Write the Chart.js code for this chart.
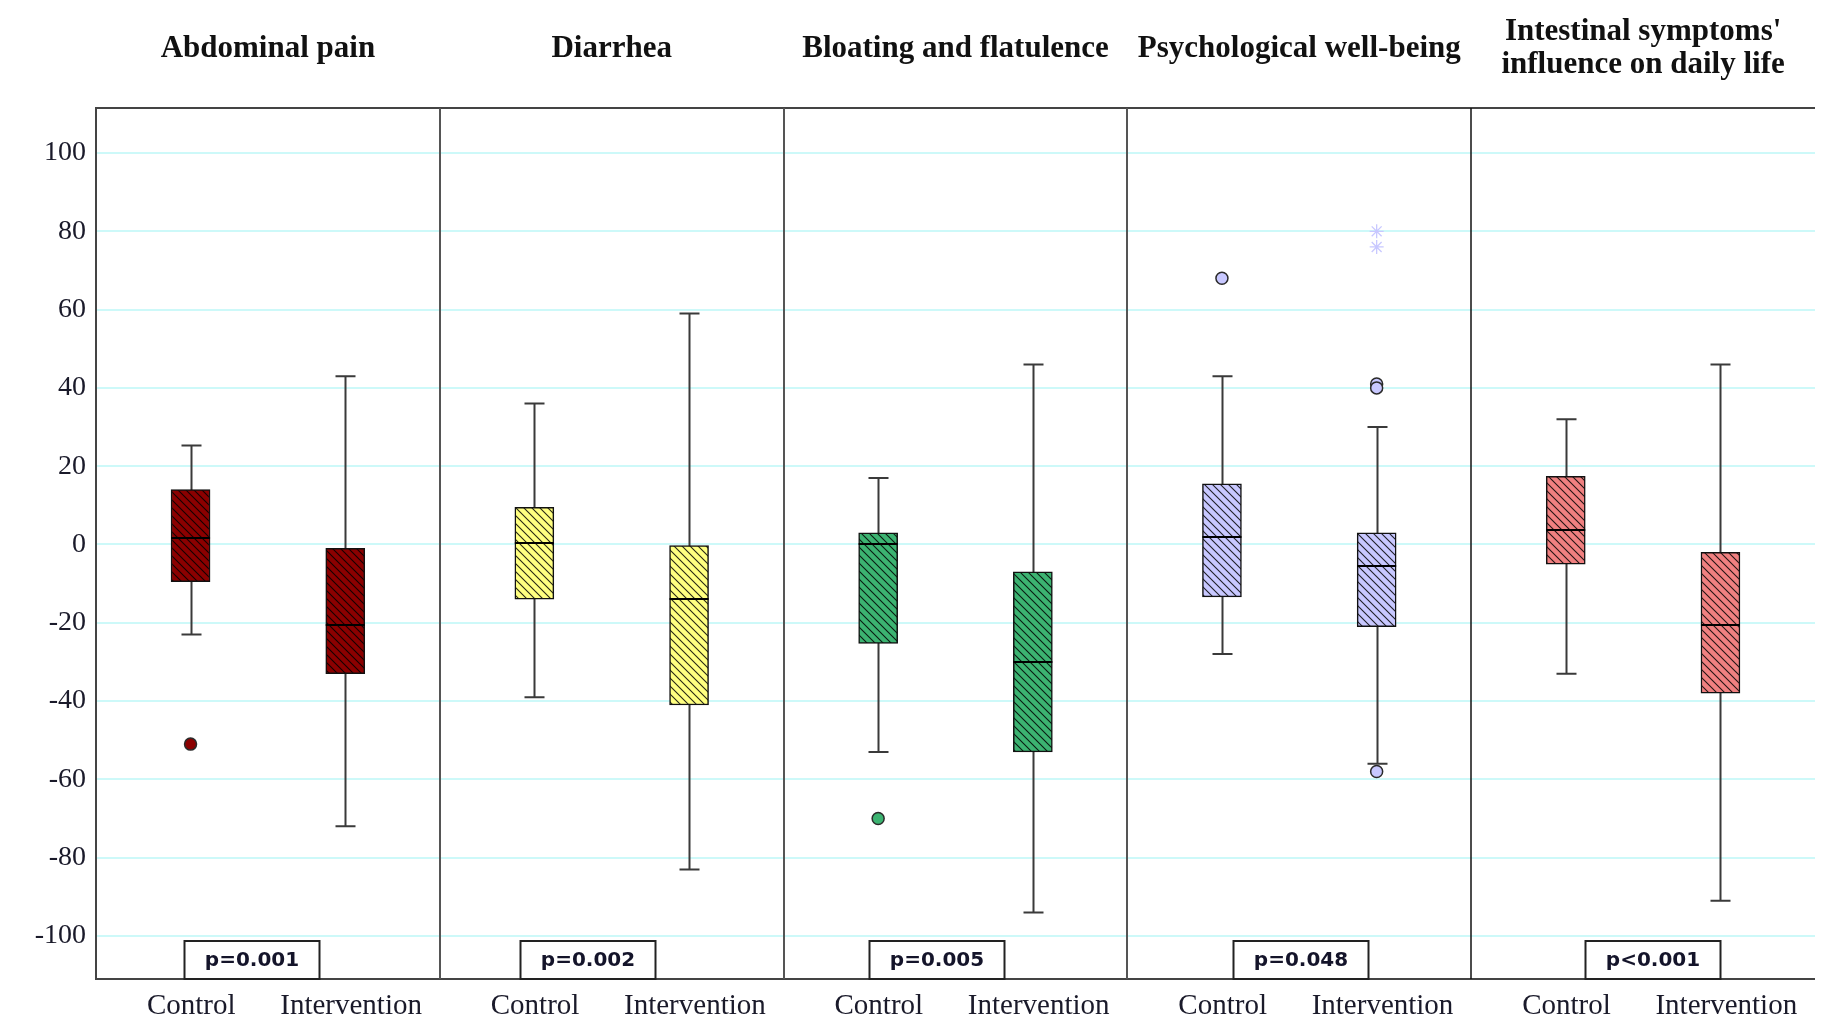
<!DOCTYPE html>
<html><head><meta charset="utf-8">
<script src="https://cdn.jsdelivr.net/npm/chart.js@4"></script>
<style>html,body{margin:0;padding:0;background:#fff}canvas{display:block}</style>
</head><body>
<canvas id="c" width="1827" height="1017"></canvas>
<script>
// ---- data ----
const panelTitles = [["Abdominal pain"],["Diarrhea"],["Bloating and flatulence"],["Psychological well-being"],["Intestinal symptoms'","influence on daily life"]];
const groups = ["Control","Intervention"];
// order: panel0 Control, panel0 Intervention, panel1 Control, ...
const whiskerLow  = [-23, -72, -39, -83, -53, -94, -28, -56, -33, -91];
const q1          = [-9.5, -33, -14, -41, -25.3, -53, -13.4, -21, -5, -38];
const median      = [1.7, -20.5, 0.5, -14, 0, -30, 1.8, -5.6, 3.6, -20.6];
const q3          = [14, -1, 9.5, 0, 3, -7, 15.5, 3, 17.4, -2];
const whiskerHigh = [25.3, 43, 36, 59, 17, 46, 43, 30, 32, 46];
const outliers = [[-51],[],[],[],[-70],[],[68],[41,40,-58],[],[]];
const extremes = [[],[],[],[],[],[],[],[80,76],[],[]];
const pValues = ["p=0.001","p=0.002","p=0.005","p=0.048","p<0.001"];
const yTicks = [-100,-80,-60,-40,-20,0,20,40,60,80,100];

// ---- layout / style (not data) ----
const groupPos = [0.275, 0.725];
const labelPos = [0.277, 0.742];
const pLabelPos = [0.455, 0.43, 0.447, 0.504, 0.53];
const panelColors = ['#8b0000','#ffff80','#3cb371','#c8c8ff','#f08080'];
const BOX_W = 39, CAP_W = 20;

const canvas = document.getElementById('c');
const ctx0 = canvas.getContext('2d');
function hatch(color){
  const s = 8, c = document.createElement('canvas'); c.width = s; c.height = s;
  const g = c.getContext('2d');
  g.fillStyle = color; g.fillRect(0,0,s,s);
  g.strokeStyle = 'rgba(0,0,0,0.85)'; g.lineWidth = 1.1;
  g.beginPath();
  g.moveTo(-1,-1); g.lineTo(s+1,s+1);
  g.moveTo(s-2,-2); g.lineTo(s+2,2);
  g.moveTo(-2,s-2); g.lineTo(2,s+2);
  g.stroke();
  return ctx0.createPattern(c,'repeat');
}
const patterns = panelColors.map(hatch);

const nBoxes = whiskerLow.length;
const xPos = [], xTickPos = [], xLabels = [];
for (let k = 0; k < nBoxes; k++) {
  const p = Math.floor(k/2), gi = k % 2;
  xPos.push(p + groupPos[gi]);
  xTickPos.push(p + labelPos[gi]);
  xLabels.push(groups[gi]);
}
const boxData = xPos.map((x,k) => ({x: x, y: [q1[k], q3[k]]}));
const boxFill = xPos.map((x,k) => patterns[Math.floor(k/2)]);

const outData = [], outColors = [];
outliers.forEach((arr,k) => arr.forEach(v => { outData.push({x: xPos[k], y: v}); outColors.push(panelColors[Math.floor(k/2)]); }));
const extData = [];
extremes.forEach((arr,k) => arr.forEach(v => extData.push({x: xPos[k], y: v})));

const framePlugin = {
  id: 'frame',
  beforeDatasetsDraw(chart) {
    const {ctx, chartArea: a, scales: {x, y}} = chart;
    ctx.save();
    // whiskers
    ctx.strokeStyle = '#3a3a3a'; ctx.lineWidth = 2;
    for (let k = 0; k < nBoxes; k++) {
      const px = Math.round(x.getPixelForValue(xPos[k])) + 0.5;
      const yl = y.getPixelForValue(whiskerLow[k]), yh = y.getPixelForValue(whiskerHigh[k]);
      ctx.beginPath();
      ctx.moveTo(px, yl); ctx.lineTo(px, yh);
      ctx.moveTo(px - CAP_W/2, yl); ctx.lineTo(px + CAP_W/2, yl);
      ctx.moveTo(px - CAP_W/2, yh); ctx.lineTo(px + CAP_W/2, yh);
      ctx.stroke();
    }
    // frame
    ctx.strokeStyle = '#444'; ctx.lineWidth = 2;
    ctx.beginPath();
    ctx.moveTo(a.left - 1, a.top); ctx.lineTo(a.right, a.top);
    ctx.moveTo(a.left, a.top); ctx.lineTo(a.left, a.bottom);
    ctx.moveTo(a.left - 1, a.bottom); ctx.lineTo(a.right, a.bottom);
    ctx.stroke();
    for (let i = 1; i < panelTitles.length; i++) {
      const px = Math.round(x.getPixelForValue(i));
      ctx.strokeStyle = i === 4 ? '#111' : '#555';
      ctx.lineWidth = i === 4 ? 1.5 : 2;
      ctx.beginPath(); ctx.moveTo(px, a.top); ctx.lineTo(px, a.bottom); ctx.stroke();
    }
    ctx.restore();
  },
  afterDatasetsDraw(chart) {
    const {ctx, chartArea: a, scales: {x, y}} = chart;
    ctx.save();
    // medians
    ctx.strokeStyle = '#000'; ctx.lineWidth = 2;
    for (let k = 0; k < nBoxes; k++) {
      const px = x.getPixelForValue(xPos[k]);
      const py = Math.round(y.getPixelForValue(median[k]));
      ctx.beginPath(); ctx.moveTo(px - BOX_W/2, py); ctx.lineTo(px + BOX_W/2, py); ctx.stroke();
    }
    // p-value boxes
    ctx.font = 'bold 20px "DejaVu Sans"';
    ctx.textAlign = 'center'; ctx.textBaseline = 'middle';
    pValues.forEach((t,i) => {
      const cx = Math.round(x.getPixelForValue(i + pLabelPos[i]));
      const w = 135, h = 38;
      ctx.fillStyle = '#fff';
      ctx.fillRect(cx - w/2, a.bottom - h, w, h);
      ctx.strokeStyle = '#222'; ctx.lineWidth = 2;
      ctx.strokeRect(cx - w/2, a.bottom - h, w, h);
      ctx.fillStyle = '#14142a';
      ctx.fillText(t, cx, a.bottom - h/2 + 1);
    });
    ctx.restore();
  },
  afterDraw(chart) {
    const {ctx, scales: {x}} = chart;
    ctx.save();
    ctx.font = 'bold 31px "Liberation Serif"';
    ctx.fillStyle = '#111';
    ctx.textAlign = 'center'; ctx.textBaseline = 'middle';
    panelTitles.forEach((lines,i) => {
      const cx = x.getPixelForValue(i + 0.5);
      if (lines.length === 1) ctx.fillText(lines[0], cx, 49);
      else { ctx.fillText(lines[0], cx, 32); ctx.fillText(lines[1], cx, 65); }
    });
    ctx.restore();
  }
};

new Chart(canvas, {
  type: 'bar',
  data: {
    datasets: [
      { type: 'scatter', data: extData, pointStyle: 'star', pointRadius: 7, borderColor: '#c8c8ff', backgroundColor: '#c8c8ff', pointBorderWidth: 1.3 },
      { type: 'scatter', data: outData, pointStyle: 'circle', pointRadius: 6, backgroundColor: outColors, borderColor: '#2a2a2a', pointBorderWidth: 1.5 },
      { type: 'bar', data: boxData, backgroundColor: boxFill, borderColor: '#111', borderWidth: 1.5, borderSkipped: false, barThickness: BOX_W, grouped: false }
    ]
  },
  options: {
    responsive: false,
    animation: false,
    devicePixelRatio: 1,
    layout: { padding: { top: 108, right: 12, left: 0, bottom: 0 } },
    plugins: { legend: { display: false }, tooltip: { enabled: false } },
    scales: {
      x: {
        type: 'linear', min: 0, max: 5, offset: false,
        grid: { display: false, drawTicks: false },
        border: { display: false },
        afterBuildTicks(s) { s.ticks = xTickPos.map(v => ({value: v})); },
        afterFit(s) { s.height = 38; },
        ticks: {
          autoSkip: false, maxRotation: 0, padding: 10,
          font: { family: 'Liberation Serif', size: 29 }, color: '#1a1a2a',
          callback: (v, i) => xLabels[i]
        }
      },
      y: {
        min: -111, max: 111.5,
        grid: { color: '#cdf9f9', lineWidth: 2, drawTicks: false },
        border: { display: false },
        afterBuildTicks(s) { s.ticks = yTicks.map(v => ({value: v})); },
        afterFit(s) { s.width = 96; },
        ticks: { padding: 10, font: { family: 'Liberation Serif', size: 28 }, color: '#1a1a2a' }
      }
    }
  },
  plugins: [framePlugin]
});
</script>
</body></html>
